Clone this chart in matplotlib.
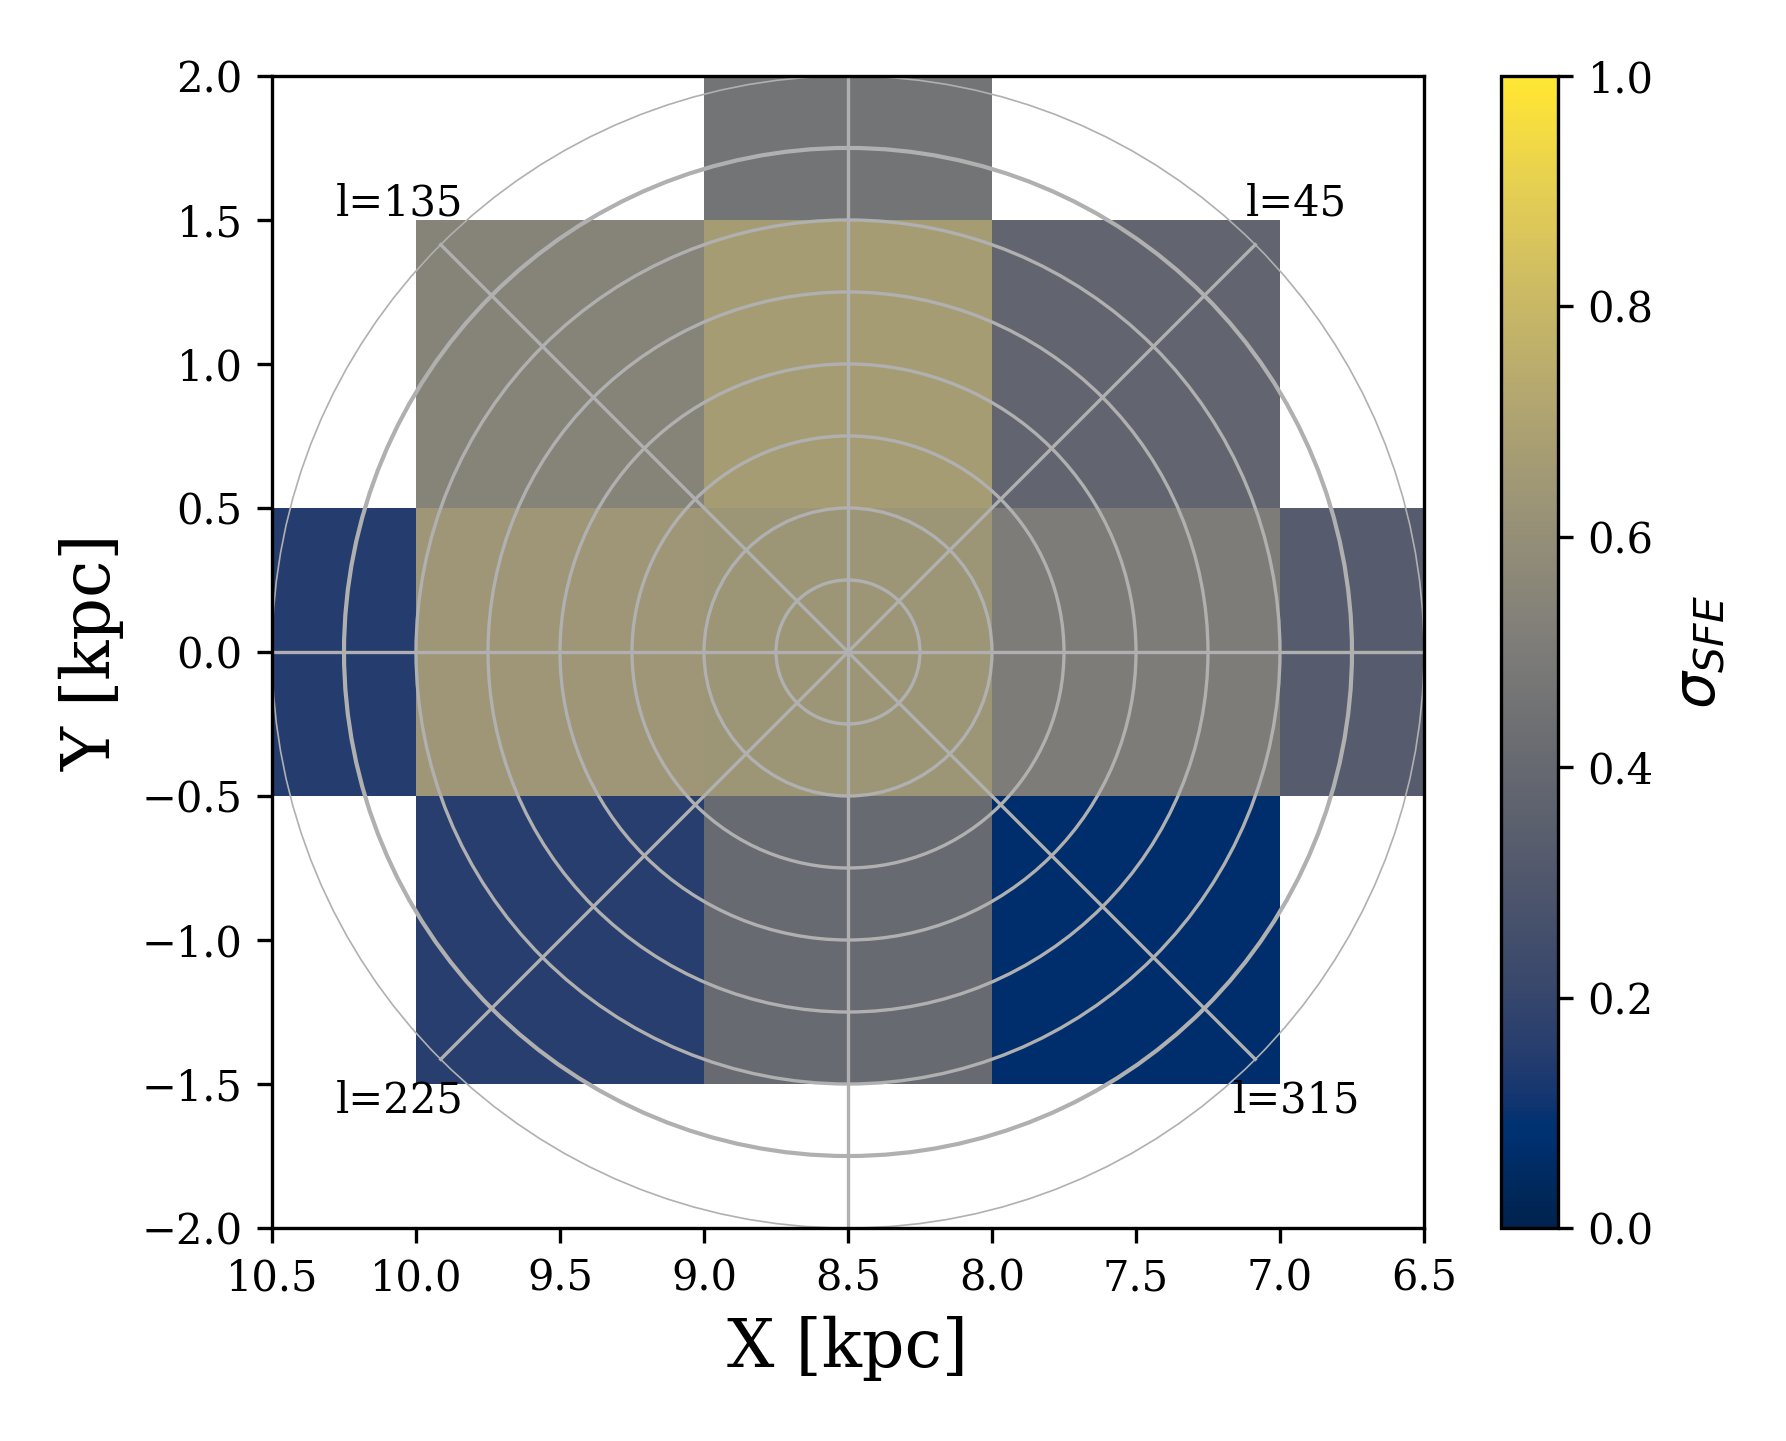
import matplotlib
matplotlib.use("Agg")
import matplotlib.pyplot as plt
import numpy as np
from matplotlib.patches import Circle

plt.rcParams["font.family"] = "DejaVu Serif"
plt.rcParams["mathtext.fontset"] = "dejavusans"

# cell centres (kpc) and sigma_SFE per cell (nan = no data)
x_centres = [10.5, 9.5, 8.5, 7.5, 6.5]
y_centres = [-2.0, -1.0, 0.0, 1.0, 2.0]
sigma_y_m2 = [np.nan, np.nan, np.nan, np.nan, np.nan]
sigma_y_m1 = [np.nan, 0.16, 0.41, 0.07, np.nan]
sigma_y_0 = [0.15, 0.64, 0.63, 0.50, 0.33]
sigma_y_p1 = [np.nan, 0.54, 0.67, 0.38, np.nan]
sigma_y_p2 = [np.nan, np.nan, 0.46, np.nan, np.nan]

sun_x = 8.5
ring_radii = [0.25, 0.5, 0.75, 1.0, 1.25, 1.5, 1.75]
outer_radius = 2.0
spoke_angles = [0, 45, 90, 135, 180, 225, 270, 315]
label_angles = [45, 135, 225, 315]

sigma = np.ma.masked_invalid(
    np.array([sigma_y_m2, sigma_y_m1, sigma_y_0, sigma_y_p1, sigma_y_p2])
)

fig = plt.figure(figsize=(1786 / 300, 1441 / 300), dpi=300)
ax = fig.add_axes([0.1523, 0.1478, 0.645, 0.7995])
cax = fig.add_axes([0.8404, 0.1478, 0.0322, 0.7995])

mesh = ax.pcolormesh(
    x_centres, y_centres, sigma, cmap="cividis", vmin=0, vmax=1,
    shading="nearest", zorder=1,
)

grid_col = "#b0b0b0"
for r in ring_radii:
    ax.add_patch(Circle((sun_x, 0), r, fill=False, ec=grid_col,
                        lw=1.0 if r == 1.75 else 0.8, zorder=2))
ax.add_patch(Circle((sun_x, 0), outer_radius, fill=False, ec=grid_col,
                    lw=0.4, zorder=2))
for ang in spoke_angles:
    a = np.deg2rad(ang)
    ax.plot([sun_x, sun_x - outer_radius * np.cos(a)],
            [0, outer_radius * np.sin(a)], color=grid_col, lw=0.8, zorder=2)

for ang in label_angles:
    a = np.deg2rad(ang)
    ax.text(sun_x - 2.2 * np.cos(a), 2.2 * np.sin(a), f"l={ang}",
            ha="center", va="center", fontsize=10, zorder=3)

ax.set_xlim(10.5, 6.5)
ax.set_ylim(-2, 2)
ax.set_xticks(np.arange(10.5, 6.4, -0.5))
ax.set_yticks(np.arange(-2.0, 2.01, 0.5))
ax.tick_params(labelsize=10)
ax.set_xlabel("X [kpc]", fontsize=16)
ax.set_ylabel("Y [kpc]", fontsize=16)

cb = fig.colorbar(mesh, cax=cax)
cb.set_label(r"$\sigma_{SFE}$", fontsize=14)
cb.ax.tick_params(labelsize=10)

fig.savefig("out.png", dpi=300)
